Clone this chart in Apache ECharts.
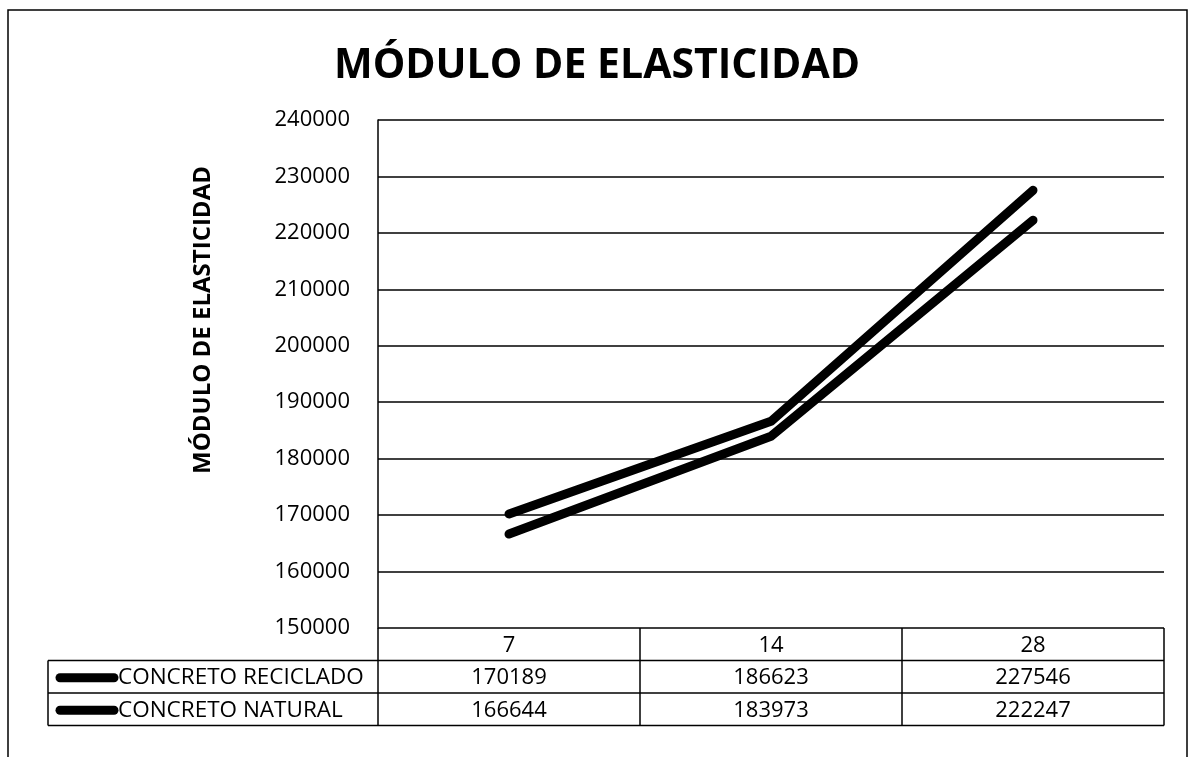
<!DOCTYPE html>
<html>
<head>
<meta charset="utf-8">
<script src="https://cdn.jsdelivr.net/npm/echarts@6/dist/echarts.min.js"></script>
<style>
  html, body { margin: 0; padding: 0; background: #fff; }
  #chart { width: 1194px; height: 757px; }
</style>
</head>
<body>
<div id="chart"></div>
<script>
// datos del gráfico
const dias = ['7', '14', '28']
const reciclado = [170189, 186623, 227546]
const natural = [166644, 183973, 222247]
const serieNames = ['CONCRETO RECICLADO', 'CONCRETO NATURAL']
const yTicks = [150000, 160000, 170000, 180000, 190000, 200000, 210000, 220000, 230000, 240000]
const yName = 'MÓDULO DE ELASTICIDAD'

const font = 'Open Sans'
const W = 1194
const H = 757
// grid en pixeles
const gLeft = 378
const gRight = 1164
const gTop = 120
const gBottom = 628
const rowH = 32.5

const chart = echarts.init(document.getElementById('chart'))

// tabla de datos debajo del eje
function buildTable() {
  const els = []
  const colW = (gRight - gLeft) / dias.length
  const line = (x1, y1, x2, y2) => ({
    type: 'line',
    shape: { x1, y1, x2, y2 },
    style: { stroke: '#000', lineWidth: 1.5 },
    silent: true
  })
  const txt = (x, y, text, align, size) => ({
    type: 'text',
    x, y,
    style: { text, fill: '#000', font: (size || 22) + 'px "' + font + '"', align: align || 'center', verticalAlign: 'middle' },
    silent: true
  })
  const rows = [reciclado, natural]
  const yEnd = gBottom + rowH * (rows.length + 1)
  // lineas horizontales
  for (let r = 1; r <= rows.length + 1; r++) {
    const y = gBottom + rowH * r
    els.push(line(48, y, gRight, y))
  }
  // verticales
  els.push(line(48, gBottom + rowH, 48, yEnd))
  for (let c = 0; c <= dias.length; c++) {
    const x = gLeft + colW * c
    els.push(line(x, gBottom, x, yEnd))
  }
  // categorias
  dias.forEach((d, i) => els.push(txt(gLeft + colW * (i + 0.5), gBottom + rowH / 2 + 1, d)))
  // filas de valores
  rows.forEach((vals, r) => {
    const yc = gBottom + rowH * (r + 1.5) + 1
    els.push({
      type: 'line',
      shape: { x1: 60, y1: yc, x2: 114, y2: yc },
      style: { stroke: '#000', lineWidth: 9, lineCap: 'round' },
      silent: true
    })
    els.push(txt(118, yc, serieNames[r], 'left', 22.5))
    vals.forEach((v, i) => els.push(txt(gLeft + colW * (i + 0.5), yc, String(v))))
  })
  // titulo del eje y
  els.push({
    type: 'text',
    x: 203,
    y: 320,
    rotation: Math.PI / 2,
    style: { text: yName, fill: '#000', font: 'bold 24px "' + font + '"', align: 'center', verticalAlign: 'middle' },
    silent: true
  })
  // borde exterior
  els.push({
    type: 'rect',
    shape: { x: 8, y: 10, width: 1179, height: 760 },
    style: { fill: 'none', stroke: '#000', lineWidth: 1.5 },
    silent: true
  })
  return els
}

chart.setOption({
  backgroundColor: '#fff',
  animation: false,
  title: {
    text: 'MÓDULO DE ELASTICIDAD',
    left: 'center',
    top: 41,
    textStyle: { fontFamily: font, fontWeight: 'bold', fontSize: 41, color: '#000' }
  },
  grid: {
    left: gLeft,
    right: W - gRight,
    top: gTop,
    bottom: H - gBottom
  },
  xAxis: {
    type: 'category',
    data: dias,
    boundaryGap: true,
    axisLine: { show: false },
    axisTick: { show: false },
    axisLabel: { show: false },
    splitLine: { show: false }
  },
  yAxis: {
    type: 'value',
    min: yTicks[0],
    max: yTicks[yTicks.length - 1],
    interval: 10000,
    axisLine: { show: true, lineStyle: { color: '#000', width: 1.5 } },
    axisTick: { show: false },
    axisLabel: { fontFamily: font, fontSize: 22, color: '#000', margin: 28, formatter: v => String(v) },
    splitLine: { show: true, lineStyle: { color: '#000', width: 1.5 } }
  },
  series: [
    {
      name: serieNames[0],
      type: 'line',
      data: reciclado,
      showSymbol: false,
      lineStyle: { color: '#000', width: 9, cap: 'round', join: 'round' }
    },
    {
      name: serieNames[1],
      type: 'line',
      data: natural,
      showSymbol: false,
      lineStyle: { color: '#000', width: 9, cap: 'round', join: 'round' }
    }
  ],
  graphic: buildTable()
})
</script>
</body>
</html>
